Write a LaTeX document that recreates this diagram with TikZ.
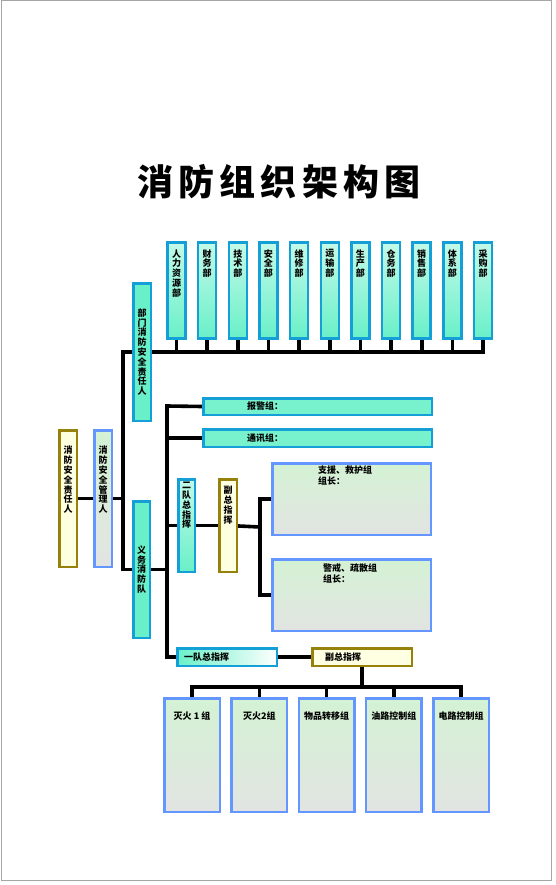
\documentclass[tikz,border=0pt]{standalone}
\usepackage{fontspec}
\setmainfont{Noto Sans CJK SC}
\XeTeXlinebreaklocale "zh"
\XeTeXlinebreakskip=0pt plus 1pt
\usetikzlibrary{positioning,backgrounds}
\definecolor{boxcyan}{RGB}{20,160,215}
\definecolor{mint}{RGB}{105,240,200}
\definecolor{boxolive}{RGB}{150,130,10}
\definecolor{paleyellow}{RGB}{255,255,225}
\definecolor{boxblue}{RGB}{100,150,255}
\definecolor{palegreen}{RGB}{212,242,212}
\definecolor{palegray}{RGB}{226,228,226}
\begin{document}
\begin{tikzpicture}[x=1pt, y=-1pt, >=stealth,
    box/.style={draw, line width=2.5pt, inner sep=0pt},
    vcyan/.style={box, draw=boxcyan, top color=mint!40, middle color=white, bottom color=mint},
    hcyan/.style={box, draw=boxcyan, left color=mint!90, middle color=white, right color=mint!90},
    olive/.style={box, draw=boxolive, fill=paleyellow},
    group/.style={box, draw=boxblue, top color=palegreen, bottom color=palegray},
    word/.style={font=\bfseries\fontsize{9}{11}\selectfont, inner sep=0pt},
    vword/.style={word, font=\bfseries\fontsize{9}{9.8}\selectfont, text width=10pt, align=center},
    vhead/.style 2 args={label={[vword, anchor=north, yshift=-#1pt]north:#2}},
    hhead/.style 2 args={label={[word, anchor=west, xshift=#1pt]west:#2}},
    link/.style={line width=3.6pt}]

  \useasboundingbox (0,0) rectangle (555,885);
  \node[font={\bfseries\fontsize{36}{40}\selectfont\addfontfeature{LetterSpace=14}}] (T) at (279,182) {消防组织架构图};

  \foreach \name [count=\i] in {人力资源部,财务部,技术部,安全部,维修部,运输部,生产部,仓务部,销售部,体系部,采购部}
    \node[vcyan, minimum width=18, minimum height=96, vhead={8}{\name}] (D\i) at ({176.5+30.65*(\i-1)},290.5) {};

  \node[olive, minimum width=17.5, minimum height=136.5, vhead={17}{消防安全责任人}] (A) at (68,498.5) {};
  \node[group, minimum width=17.5, minimum height=136.5, vhead={17}{消防安全管理人}] (B) at (103,498.5) {};
  \node[vcyan, vword, top color=mint, minimum width=17.5, minimum height=137.5] (C) at (142,352) {部门消防安全责任人};
  \node[vcyan, vword, top color=mint, minimum width=16.5, minimum height=136.5] (E) at (141.5,569.5) {义务消防队};

  \node[hcyan, minimum width=228.5, minimum height=16.5, hhead={45}{报警组：}] (F) at (317.5,406.5) {};
  \node[hcyan, minimum width=228.5, minimum height=17.5, hhead={45}{通讯组：}] (G) at (317.5,438) {};
  \node[vcyan, minimum width=16.5, minimum height=92.5, vhead={4}{二队总指挥}] (H) at (186.5,525.5) {};
  \node[olive, minimum width=17.5, minimum height=92.5, vhead={8}{副总指挥}] (I) at (228,525.5) {};
  \node[group, minimum width=158.5, minimum height=71.5,
    label={[word, align=left, anchor=north west, xshift=47pt, yshift=-4pt]north west:支援、救护组\\组长：}] (J1) at (351.5,499) {};
  \node[group, minimum width=158.5, minimum height=71.5,
    label={[word, align=left, anchor=north west, xshift=52pt, yshift=-5pt]north west:警戒、疏散组\\组长：}] (J2) at (351.5,595) {};

  \node[box, draw=boxcyan, left color=mint, right color=white, minimum width=99.5, minimum height=17.5,
    hhead={8}{一队总指挥}] (K) at (227,657) {};
  \node[olive, minimum width=99.5, minimum height=17.5, hhead={14}{副总指挥}] (L) at (362,657) {};

  \foreach \name [count=\i] in {灭火 1 组,灭火2组,物品转移组,油路控制组,电路控制组}
    \node[group, minimum width=55.5, minimum height=113.5,
      label={[word, anchor=north, yshift=-15pt]north:\name}] (M\i) at ({192+67.3*(\i-1)},755) {};

  \begin{scope}[on background layer]
    \draw[black!35, line width=1pt] (1,1) rectangle (551,880);
    \coordinate (p) at (123,352);
    \coordinate (q) at (167,406);
    \coordinate (r) at (260,527);
    \coordinate (s) at (362,687);
    \draw[link] (A) -- (B);
    \draw[link] (B) -- (B -| p);
    \draw[link] (D11.south) |- (p) |- (E.west);
    \foreach \i in {1,...,10}
      \draw[link] (D\i.south) -- (D\i.south |- p);
    \draw[link] (F.west) -- (q) |- (K.west);
    \draw[link] (G.west) -- (G.west -| q);
    \draw[link] (E.east) -- (E.east -| q);
    \draw[link] (H.west) -- (H.west -| q);
    \draw[link] (H) -- (I);
    \draw[link] (I) -- (r);
    \draw[link] (J1.west) -- (J1.west -| r) |- (J2.west);
    \draw[link] (K) -- (L);
    \draw[link] (L) -- (s);
    \draw[link] (M1.north) |- (s) -| (M5.north);
    \foreach \i in {2,3,4}
      \draw[link] (M\i.north) -- (M\i.north |- s);
  \end{scope}
\end{tikzpicture}
\end{document}
